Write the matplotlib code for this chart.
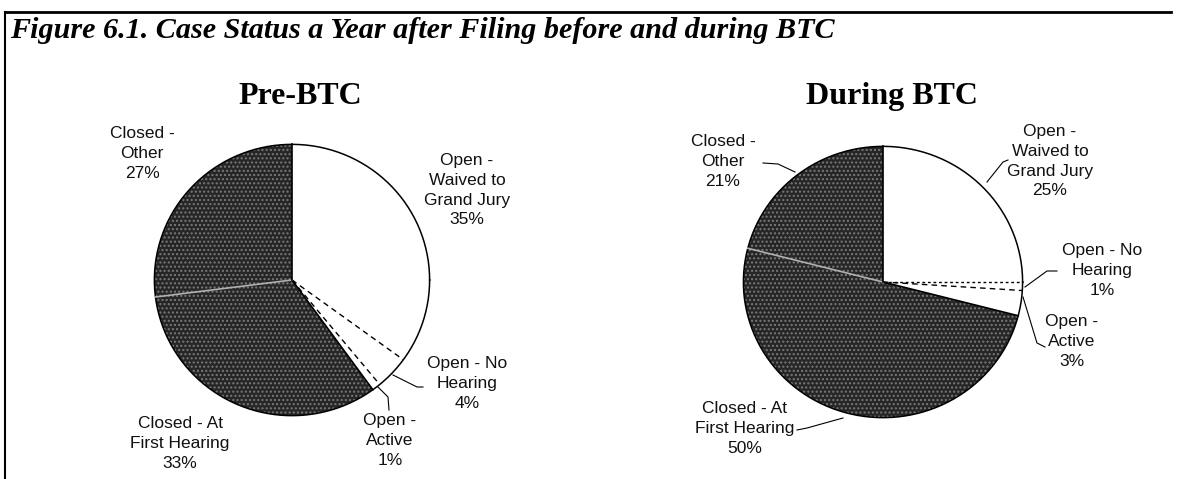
import numpy as np
import matplotlib.pyplot as plt
from matplotlib.lines import Line2D

# data (clockwise from 12 o'clock)
categories = ["Open - Waived to Grand Jury", "Open - No Hearing", "Open - Active",
              "Closed - At First Hearing", "Closed - Other"]
pre_btc = [35, 4, 1, 33, 27]
during_btc = [25, 1, 3, 50, 21]
is_open = [True, True, True, False, False]

W, H = 1177, 479
fig = plt.figure(figsize=(W / 100, H / 100), dpi=100)
fig.patch.set_facecolor("white")

SANS = "Liberation Sans"
SERIF = "Liberation Serif"


def fx(x):
    return x / W


def fy(y):
    return 1 - y / H


def line(xs, ys, **kw):
    fig.add_artist(Line2D([fx(x) for x in xs], [fy(y) for y in ys],
                          transform=fig.transFigure, **kw))


def label(x, y, s):
    fig.text(fx(x), fy(y), s, ha="center", va="top", fontsize=12.5,
             family=SANS, linespacing=1.4, color="#111111")


def draw_pie(box, values, radius_styles):
    x0, y0, x1, y1 = box
    ax = fig.add_axes([fx(x0), fy(y1), fx(x1 - x0), (y1 - y0) / H])
    colors = ["white" if o else "#262626" for o in is_open]
    wedges, _ = ax.pie(values, colors=colors, startangle=90, counterclock=False,
                       wedgeprops=dict(linewidth=0))
    for w, o in zip(wedges, is_open):
        if not o:
            w.set_hatch("....")
            w.set_edgecolor("#7a7a7a")
    ax.set_aspect("auto")
    ax.set_xlim(-1.01, 1.01)
    ax.set_ylim(-1.01, 1.01)
    # outline
    t = np.linspace(0, 2 * np.pi, 400)
    ax.plot(np.cos(t), np.sin(t), color="black", lw=1.1)
    # radii between slices (theta1 is the trailing edge when clockwise)
    for w, style in zip(wedges, radius_styles):
        a = np.deg2rad(w.theta1)
        ax.plot([0, np.cos(a)], [0, np.sin(a)], **style)
    return ax


solid = dict(color="black", lw=1.2, ls="-")
dashed = dict(color="black", lw=1.0, ls=(0, (4, 3)))
dotted = dict(color="black", lw=1.0, ls=(0, (2, 2)))
light = dict(color="#b0b0b0", lw=1.2, ls="-")

draw_pie((153, 143, 431, 417), pre_btc, [dashed, dashed, solid, light, solid])
draw_pie((742, 145, 1024, 419), during_btc, [dotted, dashed, solid, light, solid])

# frame
line([5, 1171], [12, 12], color="black", lw=2)
line([5, 5], [12, 479], color="black", lw=1.5)

fig.text(fx(10), fy(31), "Figure 6.1. Case Status a Year after Filing before and during BTC",
         ha="left", va="center", fontsize=21.7, family=SERIF, weight="bold", style="italic")
fig.text(fx(300), fy(97), "Pre-BTC", ha="center", va="center", fontsize=23,
         family=SERIF, weight="bold")
fig.text(fx(892), fy(97), "During BTC", ha="center", va="center", fontsize=23,
         family=SERIF, weight="bold")

# Pre-BTC labels
label(142, 126, "Closed -\nOther\n27%")
label(467, 153, "Open -\nWaived to\nGrand Jury\n35%")
label(467, 356, "Open - No\nHearing\n4%")
label(390, 413, "Open -\nActive\n1%")
label(180, 416, "Closed - At\nFirst Hearing\n33%")
line([393, 417, 423], [375, 387, 387], color="black", lw=0.8)
line([378, 388, 389], [387, 397, 410], color="black", lw=0.8)

# During BTC labels
label(723, 134, "Closed -\nOther\n21%")
label(1050, 124, "Open -\nWaived to\nGrand Jury\n25%")
label(1102, 243, "Open - No\nHearing\n1%")
label(1072, 314, "Open -\nActive\n3%")
label(745, 401, "Closed - At\nFirst Hearing\n50%")
line([763, 778, 795], [163, 164, 172], color="black", lw=0.8)
line([987, 1003, 1008], [182, 162, 160], color="black", lw=0.8)
line([1025, 1047, 1057], [287, 271, 271], color="black", lw=0.8)
line([1023, 1037, 1045], [297, 343, 347], color="black", lw=0.8)
line([797, 807, 843], [430, 428, 418], color="black", lw=0.8)

fig.savefig("out.png", dpi=100)
